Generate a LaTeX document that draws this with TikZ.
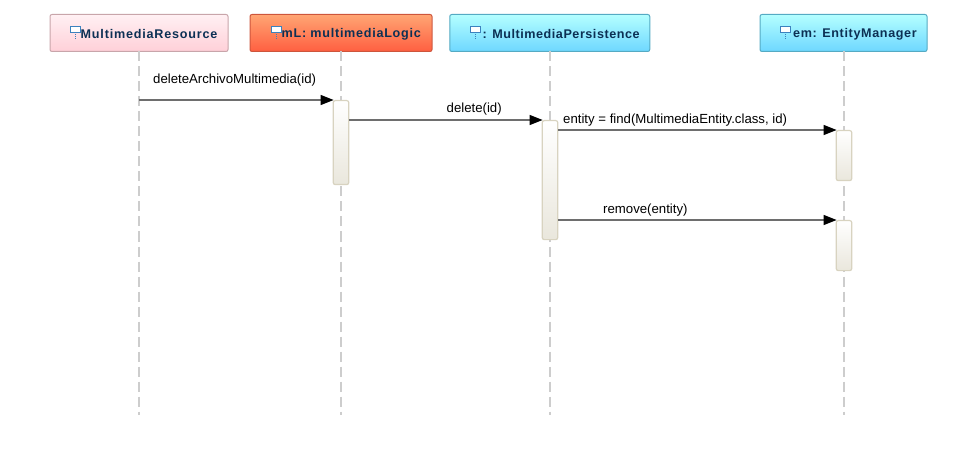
\documentclass[tikz,border=0pt]{standalone}
\usepackage{fontspec}
\setmainfont{Liberation Sans}
\usepackage{xcolor}
\definecolor{seqnavy}{RGB}{12,48,84}
\definecolor{seqlife}{RGB}{205,205,205}
\definecolor{seqline}{RGB}{110,110,110}
\definecolor{seqbar}{RGB}{216,211,192}
\definecolor{seqpinkb}{RGB}{200,165,170}
\definecolor{seqpinkt}{RGB}{255,240,243}
\definecolor{seqpinkf}{RGB}{255,208,216}
\definecolor{seqredb}{RGB}{205,85,60}
\definecolor{seqredt}{RGB}{255,165,115}
\definecolor{seqredf}{RGB}{255,95,65}
\definecolor{seqcyanb}{RGB}{85,170,195}
\definecolor{seqcyant}{RGB}{180,255,255}
\definecolor{seqcyanf}{RGB}{110,215,255}
\definecolor{seqicon}{RGB}{60,130,190}
\usetikzlibrary{arrows.meta}
\tikzset{
  hdr/.style n args={3}{draw=#1, line width=1pt, rounded corners=2pt, top color=#2,
                     bottom color=#3, minimum height=37pt, inner sep=0pt},
  hdrtext/.style={font=\fontsize{12.6}{14}\selectfont\bfseries\addfontfeature{LetterSpace=#1}, text=seqnavy,
                  anchor=west, inner sep=0pt},
  bar/.style={draw=seqbar, line width=1.2pt, rounded corners=2pt, top color=white, bottom color=seqbar!55,
              minimum width=15.5pt, inner sep=0pt, anchor=north},
  msg/.style={font=\fontsize{13.2}{15}\selectfont, text=black, inner sep=0pt},
  lifeline/.style={seqlife, line width=2pt, dash pattern=on 10pt off 5pt},
  call/.style={seqline, line width=1.3pt, shorten >=-1pt, -{Triangle[black,length=13pt,width=10pt]}},
}
\newcommand{\hdricon}[1]{%
  \draw[seqicon, fill=white, line width=0.9pt] (#1,26.5) rectangle (#1+10,32.5);
  \draw[seqicon, line width=0.8pt, dash pattern=on 1pt off 1pt] (#1+5,32.5) -- (#1+5,40);
}
\begin{document}
\begin{tikzpicture}[x=1pt, y=-1pt]
  \useasboundingbox (0,0) rectangle (977,465);
  % Lifeline ends
  \coordinate (endRes) at (139,415);
  \coordinate (endLogic) at (340.5,415);
  \coordinate (endPers) at (549.5,415);
  \coordinate (endEm) at (843.5,415);
  % Headers
  \node[hdr={seqpinkb}{seqpinkt}{seqpinkf}, minimum width=178pt] (hdrRes) at (139,33) {};
  \node[hdr={seqredb}{seqredt}{seqredf}, minimum width=182pt] (hdrLogic) at (341,33) {};
  \node[hdr={seqcyanb}{seqcyant}{seqcyanf}, minimum width=200pt] (hdrPers) at (549.75,33) {};
  \node[hdr={seqcyanb}{seqcyant}{seqcyanf}, minimum width=167pt] (hdrEm) at (843.5,33) {};
  % Header labels
  \node[hdrtext=6.3] (txtRes) at (80.5,34) {MultimediaResource};
  \node[hdrtext=5.8] (txtLogic) at (281.5,34) {mL: multimediaLogic};
  \node[hdrtext=4.3] (txtPers) at (482.5,34) {: MultimediaPersistence};
  \node[hdrtext=5] (txtEm) at (793,34) {em: EntityManager};
  % Icons
  \hdricon{70}
  \hdricon{271}
  \hdricon{470.5}
  \hdricon{780.5}
  % Lifelines
  \draw[lifeline] (139,51.5) -- (endRes);
  \draw[lifeline] (340.5,51.5) -- (endLogic);
  \draw[lifeline] (549.5,51.5) -- (endPers);
  \draw[lifeline] (843.5,51.5) -- (endEm);
  % Activation bars
  \node[bar, minimum height=84pt] (barLogic) at (341,100) {};
  \node[bar, minimum height=119pt] (barPers) at (550,120) {};
  \node[bar, minimum height=50pt] (barFind) at (844,130) {};
  \node[bar, minimum height=50pt] (barRemove) at (844,220) {};
  % Calls
  \coordinate (startRes) at (139,100);
  \draw[call] (startRes) -- (barLogic.north west);
  \draw[call] (barLogic.east |- barPers.north) -- (barPers.north west);
  \draw[call] (barPers.east |- barFind.north) -- (barFind.north west);
  \draw[call] (barPers.east |- barRemove.north) -- (barRemove.north west);
  % Labels
  \node[msg, anchor=base west] (lblArchivo) at (153,84) {deleteArchivoMultimedia(id)};
  \node[msg, anchor=base west] (lblDelete) at (446.5,113) {delete(id)};
  \node[msg, anchor=base west] (lblFind) at (563,124) {entity = find(MultimediaEntity.class, id)};
  \node[msg, anchor=base west] (lblRemove) at (603,214) {remove(entity)};
\end{tikzpicture}
\end{document}
